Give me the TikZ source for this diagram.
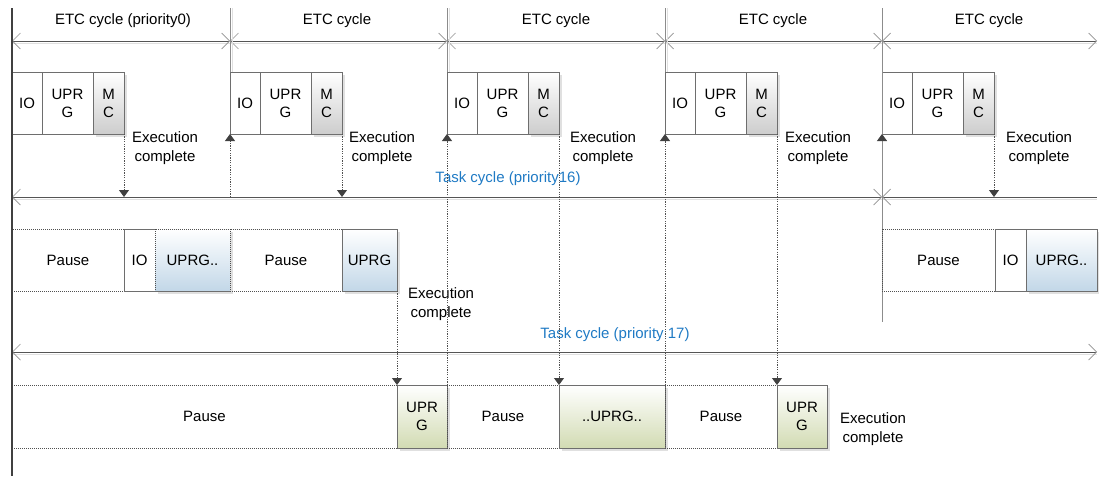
\documentclass[tikz,border=0pt]{standalone}
\usepackage{fontspec}
\setmainfont{Liberation Sans}
\usetikzlibrary{arrows.meta,shadows}
\definecolor{linec}{HTML}{555555}
\definecolor{vlinec}{HTML}{8C8C8C}
\definecolor{boxc}{HTML}{6E6E6E}
\definecolor{dotc}{HTML}{505050}
\definecolor{tipc}{HTML}{404040}
\definecolor{barbc}{HTML}{909090}
\definecolor{taskblue}{HTML}{1F7AC4}
\definecolor{mcbot}{HTML}{CDCDCD}
\definecolor{bluebot}{HTML}{C2D7E8}
\definecolor{greenbot}{HTML}{D2DBB3}
\definecolor{shadowc}{HTML}{E0E0E0}
\definecolor{axisc}{HTML}{404040}
\newcommand\dfont{\fontsize{15}{18}\selectfont}
\newcommand\efont{\fontsize{15}{19}\selectfont}
\tikzset{
  mybarb/.tip={Straight Barb[length=8pt,width=16pt,line width=0.7pt,color=barbc]},
  mytri/.tip={Triangle[length=7pt,width=10pt,color=tipc]},
}
\begin{document}
\begin{tikzpicture}[x=1pt,y=-1pt,
  every node/.style={font=\dfont},
  blk/.style={draw=boxc, line width=0.9pt, inner sep=0pt, outer sep=0pt, anchor=north west, align=center, minimum height=62pt},
  pausebox/.style={blk, draw=dotc, dash pattern=on 1pt off 1pt, line width=0.8pt},
  wbox/.style={blk, fill=white},
  mcbox/.style={blk, top color=white, bottom color=mcbot, drop shadow={shadow xshift=3pt, shadow yshift=-3pt, fill=shadowc, opacity=1}},
  bluebox/.style={blk, top color=white, bottom color=bluebot, drop shadow={shadow xshift=3pt, shadow yshift=-3pt, fill=shadowc, opacity=1}},
  greenbox/.style={blk, top color=white, bottom color=greenbot, minimum height=63pt, drop shadow={shadow xshift=3pt, shadow yshift=-3pt, fill=shadowc, opacity=1}},
  exec/.style={align=center, inner sep=0pt, font=\efont},
  tasklbl/.style={text=taskblue, inner sep=0pt},
  dimline/.style={draw=linec, line width=1pt},
  shline/.style={draw=shadowc, line width=1pt},
  vline/.style={draw=vlinec, line width=0.9pt},
  dotarr/.style={draw=dotc, line width=0.8pt, dash pattern=on 1.2pt off 1.2pt, -mytri},
  solidarr/.style={draw=vlinec, line width=0.9pt, -mytri},
]
\useasboundingbox (0,0) rectangle (1099,479);

% dimension line coordinates
\coordinate (e0) at (12,41);
\coordinate (e1) at (230,41);
\coordinate (e2) at (447,41);
\coordinate (e3) at (665,41);
\coordinate (e4) at (882,41);
\coordinate (e5) at (1097,41);
\coordinate (t0) at (12,197);
\coordinate (t1) at (882,197);
\coordinate (t2) at (1097,197);
\coordinate (s0) at (12,352);
\coordinate (s1) at (1097,352);

% shadows of the horizontal lines
\draw[shline] ([yshift=-2.5pt]e0) -- ([yshift=-2.5pt]e5);
\draw[shline] ([yshift=-2.5pt]t0) -- ([yshift=-2.5pt]t2);
\draw[shline] ([yshift=-2.5pt]s0) -- ([yshift=-2.5pt]s1);

% ETC cycle dimension lines
\draw[dimline, mybarb-mybarb] (e0) -- (e1);
\draw[dimline, mybarb-mybarb] (e1) -- (e2);
\draw[dimline, mybarb-mybarb] (e2) -- (e3);
\draw[dimline, mybarb-mybarb] (e3) -- (e4);
\draw[dimline, mybarb-mybarb] (e4) -- (e5);
% Task cycle lines
\draw[dimline, mybarb-mybarb] (t0) -- (t1);
\draw[dimline, mybarb-] (t1) -- (t2);
\draw[dimline, mybarb-mybarb] (s0) -- (s1);

% labels
\node (l1) at (123,21) {ETC cycle (priority0)};
\node (l2) at (337,21) {ETC cycle};
\node (l3) at (556,21) {ETC cycle};
\node (l4) at (773,21) {ETC cycle};
\node (l5) at (989,21) {ETC cycle};
\node[tasklbl] (tl16) at (508,179) {Task cycle (priority16)};
\node[tasklbl] (tl17) at (615,335) {Task cycle (priority 17)};

% top row (ETC)
\foreach \i/\s/\ex in {1/12/165,2/230/382,3/447/603,4/665/818,5/882/1039}{
  \node[wbox, minimum width=30pt] (io\i) at (\s,72) {IO};
  \node[wbox, minimum width=51pt] (up\i) at (io\i.north east) {UPR\\G};
  \node[mcbox, minimum width=31pt] (mc\i) at (up\i.north east) {M\\C};
  \node[exec] (ex\i) at (\ex,148) {Execution\\complete};
}

% cycle boundary lines
\coordinate (v2) at (230,8);
\coordinate (v3) at (447,8);
\coordinate (v4) at (665,8);
\coordinate (v5) at (882,8);
\coordinate (v5b) at (882,322);
\draw[draw=shadowc, line width=0.9pt] ([xshift=2.5pt]v2) -- ([xshift=2.5pt]io2.north west);
\draw[draw=shadowc, line width=0.9pt] ([xshift=2.5pt]v3) -- ([xshift=2.5pt]io3.north west);
\draw[draw=shadowc, line width=0.9pt] ([xshift=2.5pt]v4) -- ([xshift=2.5pt]io4.north west);
\draw[vline] (v2) -- (io2.north west);
\draw[vline] (v3) -- (io3.north west);
\draw[vline] (v4) -- (io4.north west);
\draw[vline] (v5) -- (v5b);

% row 2 (priority 16)
\node[pausebox, minimum width=112pt] (pa1) at (12,229) {Pause};
\node[wbox, minimum width=31pt] (ioa) at (pa1.north east) {IO};
\node[bluebox, minimum width=75pt, draw=dotc, dash pattern=on 1pt off 1pt, line width=0.8pt] (ua1) at (ioa.north east) {UPRG..};
\draw[draw=boxc, line width=0.9pt] (ua1.south west) -- (ua1.south east);
\node[pausebox, minimum width=112pt] (pa2) at (ua1.north east) {Pause};
\node[bluebox, minimum width=55pt] (ua2) at (pa2.north east) {UPRG};
\node[exec] (exa) at (441,304) {Execution\\complete};

\node[pausebox, minimum width=113pt] (pa5) at (882,229) {Pause};
\node[wbox, minimum width=31pt] (iob) at (pa5.north east) {IO};
\node[bluebox, minimum width=71pt] (ub) at (iob.north east) {UPRG..};

% row 3 (priority 17)
\node[pausebox, minimum width=385pt, minimum height=63pt] (pb1) at (12,385) {Pause};
\node[greenbox, minimum width=50pt] (ug1) at (pb1.north east) {UPR\\G};
\node[pausebox, minimum width=112pt, minimum height=63pt] (pb2) at (ug1.north east) {Pause};
\node[greenbox, minimum width=106pt] (ug2) at (pb2.north east) {..UPRG..};
\node[pausebox, minimum width=112pt, minimum height=63pt] (pb3) at (ug2.north east) {Pause};
\node[greenbox, minimum width=50pt] (ug3) at (pb3.north east) {UPR\\G};
\node[exec] (exb) at (873,429) {Execution\\complete};

% connectors
\draw[dotarr] (mc1.south east) -- (mc1.south east |- t0);
\draw[dotarr] (mc2.south east) -- (mc2.south east |- t0);
\draw[dotarr] (mc3.south east) -- (ug2.north west);
\draw[dotarr] (mc4.south east) -- (ug3.north west);
\draw[dotarr] (mc5.south east) -- (mc5.south east |- t0);
\draw[dotarr] (ua2.south east) -- (ug1.north west);
\draw[dotarr] (io2.south west |- t0) -- (io2.south west);
\draw[dotarr] (pb2.north west) -- (io3.south west);
\draw[dotarr] (pb3.north west) -- (io4.south west);
\draw[solidarr] (io5.south west |- t0) -- (io5.south west);

% left axis
\coordinate (a0) at (12,8);
\coordinate (a1) at (12,476);
\draw[draw=axisc, line width=2pt] (a0) -- (a1);
\end{tikzpicture}
\end{document}
